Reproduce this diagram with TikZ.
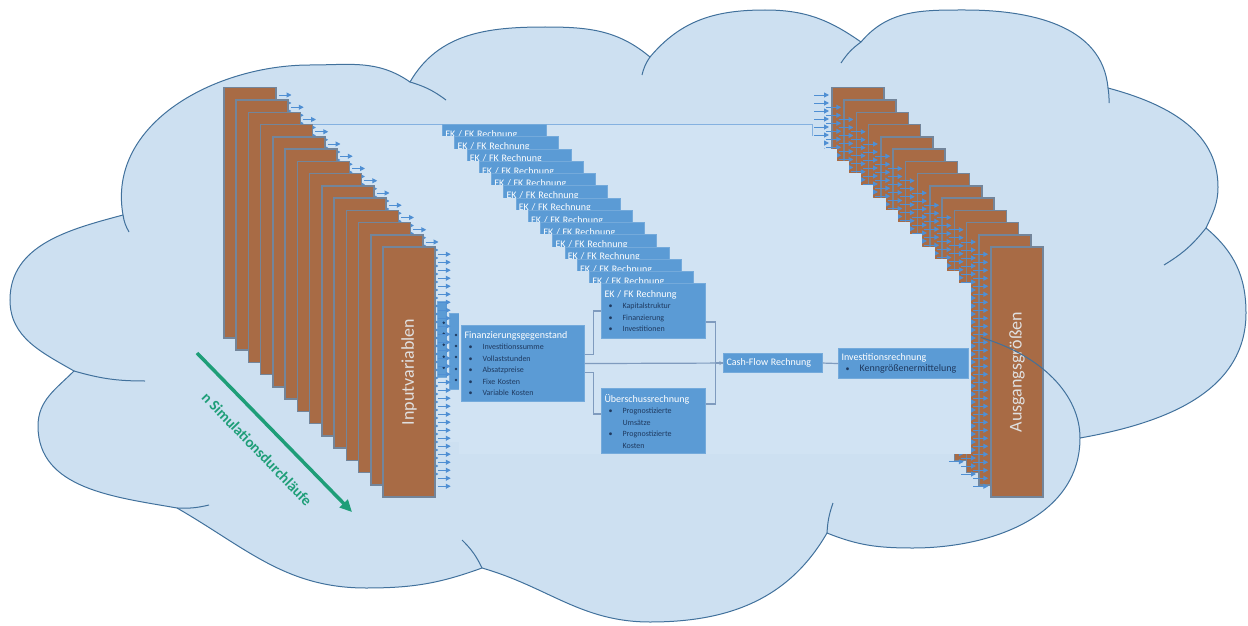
\documentclass[tikz,border=0pt]{standalone}
\usepackage{fontspec}
\setmainfont{Carlito}
\usepackage{tikz}
\usetikzlibrary{arrows.meta, calc}

\definecolor{cloudfill}{HTML}{CDE0F1}
\definecolor{cloudedge}{HTML}{41719C}
\definecolor{panelfill}{HTML}{D1E3F3}
\definecolor{runbrown}{HTML}{A86B45}
\definecolor{baredge}{HTML}{73859A}
\definecolor{boxblue}{HTML}{5B9BD5}
\definecolor{itemnavy}{HTML}{1F3A60}
\definecolor{feedblue}{HTML}{4F8FD3}
\definecolor{linkgray}{HTML}{7F9BBE}
\definecolor{simgreen}{HTML}{1E9E78}

\newcommand\boxtitle[1]{{\color{white}\fontsize{10}{11.5}\selectfont #1}}
\newcommand\bpt[1]{\par\hangindent=18pt\hangafter=1\noindent\makebox[18pt][l]{\hspace{4pt}\textbullet}#1}

\tikzset{
  cloudline/.style={draw=cloudedge, line width=1pt},
  runpanel/.style={fill=panelfill},
  runbar/.style={draw=baredge, line width=1.5pt, fill=runbrown, minimum width=52pt,
    minimum height=250pt, anchor=north west, inner sep=0pt},
  bartext/.style={text=white!88!black, font=\fontsize{18}{20}\selectfont},
  flowbox/.style={fill=boxblue, draw=boxblue!85!white, line width=0.6pt, text=itemnavy,
    anchor=north west, inner sep=3pt, align=left, font=\fontsize{8}{11.5}\selectfont},
  feedarrow/.style={draw=feedblue, line width=1pt, -{Triangle[length=5pt,width=5pt]}},
  link/.style={draw=linkgray, line width=1.2pt},
  simarrow/.style={draw=simgreen, line width=3.5pt, -{Triangle[length=12pt,width=11pt]}},
  simtext/.style={text=simgreen, font=\bfseries\fontsize{15}{17}\selectfont}
}

\begin{document}
\begin{tikzpicture}[x=1pt, y=1pt]
\useasboundingbox (0,0) rectangle (1248,-626);

% cloud outline
\filldraw[cloudline, fill=cloudfill]
  (123,-215) to[out=100,in=180] (310,-65)          % top left lobe
  to[out=0,in=145] (410,-82)
  to[out=60,in=180] (545,-27)                       % top lobes
  to[out=0,in=140] (650,-57)
  to[out=50,in=180] (765,-10)
  to[out=0,in=145] (861,-42)
  to[out=50,in=180] (965,-10)
  to[out=0,in=95] (1108,-88)
  to[out=-15,in=90] (1218,-187)                     % right lobes
  to[out=-90,in=65] (1206,-228)
  to[out=-40,in=90] (1246,-313)
  to[out=-90,in=10] (1080,-438)
  to[out=-90,in=0] (913,-548)                       % bottom lobes
  to[out=180,in=-22] (827,-533)
  to[out=-120,in=0] (650,-622)
  to[out=180,in=-16] (482,-568)
  to[out=200,in=0] (366,-588)
  to[out=180,in=-30] (177,-508)
  to[out=170,in=-90] (38,-426)                      % left lobes
  to[out=90,in=225] (74,-371)
  to[out=150,in=-90] (10,-300)
  to[out=90,in=195] (123,-215) -- cycle;

% inner arcs of the cloud
\draw[cloudline] (123,-215) to[bend right=10] (129,-232);
\draw[cloudline] (410,-82) to[bend left=10] (446,-100);
\draw[cloudline] (650,-57) to[bend right=10] (642,-75);
\draw[cloudline] (861,-42) to[bend right=10] (841,-63);
\draw[cloudline] (1108,-88) to[bend left=5] (1109,-103);
\draw[cloudline] (1206,-228) to[bend left=10] (1164,-265);
\draw[cloudline] (827,-533) to[bend left=8] (833,-503);
\draw[cloudline] (482,-568) to[bend right=10] (462,-540);
\draw[cloudline] (177,-508) to[bend right=8] (209,-505);
\draw[cloudline] (74,-371) to[bend right=8] (145,-381);

% one layer per simulation run, the last one in front
\foreach \k [evaluate=\k as \o using \k*12.25] in {0,...,13}{
  \fill[runpanel] ({300+\o},{-124-\o}) rectangle ({812+\o},{-295-\o});    % layer background
  \ifnum\k=0
    \draw[draw=feedblue!70!white, line width=0.8pt] (300,-124.5) -- (812,-124.5) -- (812,-137);
  \fi
  \node[runbar] (in\k) at ({223+\o},{-87-\o}) {};                         % input bar
  \foreach \j in {0,...,29}
    \draw[feedarrow] ([xshift=2pt,yshift={-8-8*\j}]in\k.north east) -- ++(13,0);
  \node[runbar] (out\k) at ({831+\o},{-87-\o}) {};                        % output bar
  \foreach \j in {0,...,29}
    \draw[feedarrow] ([xshift=-17pt,yshift={-8-8*\j}]out\k.north west) -- ++(15,0);
  \ifnum\k<13
    \node[flowbox, minimum width=123pt, minimum height=76pt] (fin\k) at ({302+\o},{-166-\o}) {};
    \foreach \j in {22,33,44,56,67}
      \fill[itemnavy] ([xshift=7pt,yshift=-\j pt]fin\k.north west) circle (1.3);
    \node[flowbox, text width=98pt, minimum height=55pt] (ek\k) at ({442+\o},{-124-\o})
      {\boxtitle{EK / FK Rechnung}\par\vspace{34pt}};
  \else
    \node[bartext, rotate=90] (inlabel) at (in\k.center) {Inputvariablen};
    \node[bartext, rotate=90] (outlabel) at (out\k.center) {Ausgangsgrößen};
    \node[flowbox, text width=117pt, minimum height=76pt] (fin\k) at ({302+\o},{-166-\o})
      {\boxtitle{Finanzierungsgegenstand}\bpt{Investitionssumme}\bpt{Vollaststunden}%
       \bpt{Absatzpreise}\bpt{Fixe Kosten}\bpt{Variable Kosten}\par};
    \node[flowbox, text width=98pt, minimum height=55pt] (ek\k) at ({442+\o},{-124-\o})
      {\boxtitle{EK / FK Rechnung}\bpt{Kapitalstruktur}\bpt{Finanzierung}\bpt{Investitionen}\par};
    \node[flowbox, text width=98pt, minimum height=65pt] (ue\k) at ({442+\o},{-229-\o})
      {\boxtitle{Überschussrechnung}\bpt{Prognostizierte\newline Umsätze}%
       \bpt{Prognostizierte\newline Kosten}\par};
    \node[flowbox, text width=93pt, minimum height=19pt] (cf\k) at ({564+\o},{-194-\o})
      {\boxtitle{Cash-Flow Rechnung}};
    \node[flowbox, text width=124pt, minimum height=30pt] (inv\k) at ({679+\o},{-189-\o})
      {\boxtitle{Investitionsrechnung}\bpt{\fontsize{10}{11.5}\selectfont Kenngrößenermittelung}\par};
    \draw[link] ([yshift=9pt]fin\k.east) -- ++(9,0) |- (ek\k.west);       % to EK / FK
    \draw[link] ([yshift=-9pt]fin\k.east) -- ++(9,0) |- ([yshift=7pt]ue\k.west);
    \draw[link, -{Stealth[length=4pt,width=4pt]}] (fin\k.east) -- (cf\k.west);
    \draw[link] ([yshift=-11pt]ek\k.east) -- ++(10,0) |- (cf\k.west);
    \draw[link] ([yshift=17pt]ue\k.east) -- ++(10,0) |- (cf\k.west);
    \draw[link] (cf\k.east) -- (inv\k.west);
  \fi
}

% cloud arc seen through the output bars
\draw[cloudline] (1080,-438) arc[start angle=0, end angle=66, x radius=167, y radius=110];

% simulation runs
\coordinate (simstart) at (197,-353);
\coordinate (simend) at (352,-512);
\draw[simarrow] (simstart) -- (simend);
\node[simtext, rotate=-46] (simlabel) at (257,-449) {n Simulationsdurchläufe};
\end{tikzpicture}
\end{document}
